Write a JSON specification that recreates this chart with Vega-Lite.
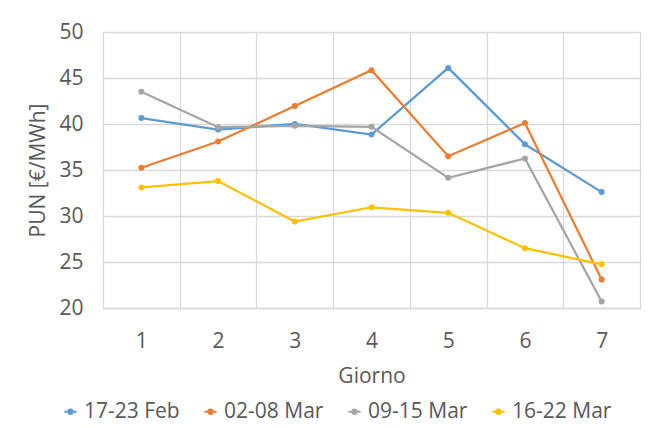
{
  "$schema": "https://vega.github.io/schema/vega-lite/v6.json",
  "autosize": "none",
  "width": 537,
  "height": 276,
  "padding": {"left": 103, "top": 32, "right": 8, "bottom": 120},
  "background": "white",
  "config": {
    "font": "Open Sans",
    "view": {"stroke": null},
    "axis": {"labelFont": "Open Sans", "titleFont": "Open Sans", "labelColor": "#595959", "titleColor": "#595959", "labelFontSize": 21, "titleFontSize": 21, "titleFontWeight": "normal", "gridColor": "#d9d9d9", "gridWidth": 1.3}
  },
  "data": {"values": [
    {"giorno": 1, "serie": "17-23 Feb", "pun": 40.65},
    {"giorno": 2, "serie": "17-23 Feb", "pun": 39.4},
    {"giorno": 3, "serie": "17-23 Feb", "pun": 40.0},
    {"giorno": 4, "serie": "17-23 Feb", "pun": 38.85},
    {"giorno": 5, "serie": "17-23 Feb", "pun": 46.1},
    {"giorno": 6, "serie": "17-23 Feb", "pun": 37.8},
    {"giorno": 7, "serie": "17-23 Feb", "pun": 32.6},
    {"giorno": 1, "serie": "02-08 Mar", "pun": 35.25},
    {"giorno": 2, "serie": "02-08 Mar", "pun": 38.1},
    {"giorno": 3, "serie": "02-08 Mar", "pun": 41.95},
    {"giorno": 4, "serie": "02-08 Mar", "pun": 45.85},
    {"giorno": 5, "serie": "02-08 Mar", "pun": 36.5},
    {"giorno": 6, "serie": "02-08 Mar", "pun": 40.1},
    {"giorno": 7, "serie": "02-08 Mar", "pun": 23.1},
    {"giorno": 1, "serie": "09-15 Mar", "pun": 43.5},
    {"giorno": 2, "serie": "09-15 Mar", "pun": 39.65},
    {"giorno": 3, "serie": "09-15 Mar", "pun": 39.8},
    {"giorno": 4, "serie": "09-15 Mar", "pun": 39.7},
    {"giorno": 5, "serie": "09-15 Mar", "pun": 34.15},
    {"giorno": 6, "serie": "09-15 Mar", "pun": 36.25},
    {"giorno": 7, "serie": "09-15 Mar", "pun": 20.7},
    {"giorno": 1, "serie": "16-22 Mar", "pun": 33.1},
    {"giorno": 2, "serie": "16-22 Mar", "pun": 33.8},
    {"giorno": 3, "serie": "16-22 Mar", "pun": 29.4},
    {"giorno": 4, "serie": "16-22 Mar", "pun": 30.95},
    {"giorno": 5, "serie": "16-22 Mar", "pun": 30.35},
    {"giorno": 6, "serie": "16-22 Mar", "pun": 26.5},
    {"giorno": 7, "serie": "16-22 Mar", "pun": 24.75}
  ]},
  "encoding": {
    "y": {"field": "pun", "type": "quantitative", "scale": {"domain": [20, 50], "nice": false, "zero": false},
      "axis": {"title": "PUN [€/MWh]", "values": [20, 25, 30, 35, 40, 45, 50], "domain": false, "ticks": false, "labelPadding": 20, "titlePadding": 10}},
    "color": {"field": "serie", "type": "nominal", "sort": ["17-23 Feb", "02-08 Mar", "09-15 Mar", "16-22 Mar"],
      "scale": {"domain": ["17-23 Feb", "02-08 Mar", "09-15 Mar", "16-22 Mar"], "range": ["#5B9BD5", "#ED7D31", "#A5A5A5", "#FFC000"]},
      "legend": {"title": null, "orient": "none", "legendX": -43, "legendY": 369, "direction": "horizontal", "labelFontSize": 21, "labelColor": "#595959", "labelFont": "Open Sans", "labelOffset": 3, "symbolType": "M-1,0H1M0,-0.35A0.35,0.35 0 1,1 0,0.35A0.35,0.35 0 1,1 0,-0.35Z", "symbolSize": 150, "symbolStrokeWidth": 2, "columnPadding": 20}}
  },
  "layer": [
    {
      "mark": {"type": "rule", "opacity": 0},
      "encoding": {
        "x": {"field": "giorno", "type": "quantitative", "scale": {"domain": [0.5, 7.5], "nice": false, "zero": false},
          "axis": {"orient": "bottom", "values": [0.5, 1.5, 2.5, 3.5, 4.5, 5.5, 6.5, 7.5], "labels": false, "ticks": false, "domain": false, "grid": true, "title": null}}
      }
    },
    {
      "mark": {"type": "line", "strokeWidth": 2.25, "point": {"filled": true, "size": 36}},
      "encoding": {
        "x": {"field": "giorno", "type": "quantitative", "scale": {"domain": [0.5, 7.5], "nice": false, "zero": false},
          "axis": {"orient": "bottom", "title": "Giorno", "values": [1, 2, 3, 4, 5, 6, 7], "grid": false, "ticks": false, "domain": true, "domainColor": "#d9d9d9", "domainWidth": 1.3, "labelPadding": 22, "titlePadding": 14}}
      }
    }
  ],
  "resolve": {"axis": {"x": "independent"}}
}
